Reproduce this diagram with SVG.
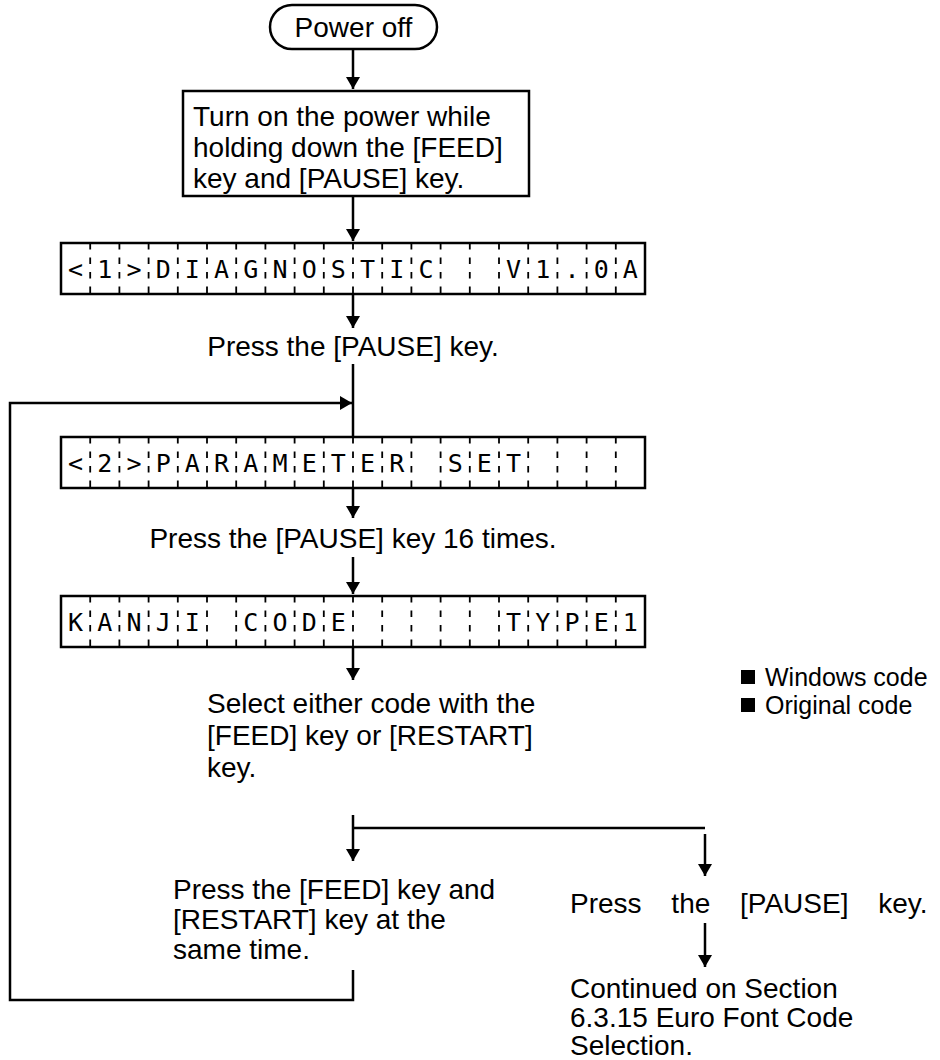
<svg xmlns="http://www.w3.org/2000/svg" xmlns:xlink="http://www.w3.org/1999/xlink" width="940" height="1060" viewBox="0 0 940 1060">
<style>
.t{font-family:"Liberation Sans",Arial,sans-serif;font-size:28px;fill:#000}
.lg{font-family:"Liberation Sans",Arial,sans-serif;font-size:25px;fill:#000}
.lcd{font-family:"DejaVu Sans Mono","Liberation Mono",monospace;font-size:25px;fill:#000;text-anchor:middle}
.box{fill:#fff;stroke:#000;stroke-width:2.5}
.ln{fill:none;stroke:#000;stroke-width:2.5}
.div{fill:none;stroke:#000;stroke-width:1.8;stroke-dasharray:6.5 8}
</style>
<defs>
<marker id="ah" markerUnits="userSpaceOnUse" viewBox="0 0 12 14" refX="12" refY="7" markerWidth="12" markerHeight="14" orient="auto">
<path d="M0,0 L12,7 L0,14 z" fill="#000"/>
</marker>
<path id="lcdDiv" class="div" d="M90.2 0v51M119.4 0v51M148.6 0v51M177.8 0v51M207 0v51M236.2 0v51M265.4 0v51M294.6 0v51M323.8 0v51M353 0v51M382.2 0v51M411.4 0v51M440.6 0v51M469.8 0v51M499 0v51M528.2 0v51M557.4 0v51M586.6 0v51M615.8 0v51"/>
</defs>
<rect width="940" height="1060" fill="#fff"/>

<g id="connectors">
<path class="ln" d="M353 49V89" marker-end="url(#ah)"/>
<path class="ln" d="M353 196V241" marker-end="url(#ah)"/>
<path class="ln" d="M353 294V328" marker-end="url(#ah)"/>
<path class="ln" d="M353 364V437"/>
<path class="ln" d="M353 970V1000H10V403H352" marker-end="url(#ah)"/>
<path class="ln" d="M353 488V518" marker-end="url(#ah)"/>
<path class="ln" d="M353 557V594" marker-end="url(#ah)"/>
<path class="ln" d="M353 647V680" marker-end="url(#ah)"/>
<path class="ln" d="M353 815V861" marker-end="url(#ah)"/>
<path class="ln" d="M353 828H705"/>
<path class="ln" d="M705 834V876" marker-end="url(#ah)"/>
<path class="ln" d="M705 923V967" marker-end="url(#ah)"/>
</g>

<g id="power-off">
<rect class="box" x="270" y="5" width="167" height="44" rx="22"/>
<text class="t" x="353.5" y="37" text-anchor="middle">Power off</text>
</g>

<g id="turn-on">
<rect class="box" x="183" y="91" width="346" height="105"/>
<text class="t" font-size="29" x="193" y="126">Turn on the power while</text>
<text class="t" font-size="29" x="193" y="157">holding down the [FEED]</text>
<text class="t" font-size="29" x="193" y="188">key and [PAUSE] key.</text>
</g>

<g id="lcd-diagnostic">
<rect class="box" x="61" y="243" width="584" height="51"/>
<use xlink:href="#lcdDiv" y="243"/>
<text class="lcd" x="75.6 104.8 134 163.2 192.4 221.6 250.8 280 309.2 338.4 367.6 396.8 426" y="278">&lt;1&gt;DIAGNOSTIC</text>
<text class="lcd" x="513.6 542.8 572 601.2 630.4" y="278">V1.0A</text>
</g>

<g id="press-pause">
<text class="t" x="353" y="356" text-anchor="middle">Press the [PAUSE] key.</text>
</g>

<g id="lcd-parameter">
<rect class="box" x="61" y="437" width="584" height="51"/>
<use xlink:href="#lcdDiv" y="437"/>
<text class="lcd" x="75.6 104.8 134 163.2 192.4 221.6 250.8 280 309.2 338.4 367.6 396.8" y="472">&lt;2&gt;PARAMETER</text>
<text class="lcd" x="455.2 484.4 513.6" y="472">SET</text>
</g>

<g id="press-pause-16">
<text class="t" x="353" y="548" text-anchor="middle">Press the [PAUSE] key 16 times.</text>
</g>

<g id="lcd-kanji">
<rect class="box" x="61" y="596" width="584" height="51"/>
<use xlink:href="#lcdDiv" y="596"/>
<text class="lcd" x="75.6 104.8 134 163.2 192.4" y="631">KANJI</text>
<text class="lcd" x="250.8 280 309.2 338.4" y="631">CODE</text>
<text class="lcd" x="513.6 542.8 572 601.2 630.4" y="631">TYPE1</text>
</g>

<g id="select-code">
<text class="t" x="207" y="713">Select either code with the</text>
<text class="t" x="207" y="745">[FEED] key or [RESTART]</text>
<text class="t" x="207" y="777">key.</text>
</g>

<g id="legend">
<rect x="741" y="670" width="14" height="14" fill="#000"/>
<text class="lg" x="765" y="686">Windows code</text>
<rect x="741" y="698" width="14" height="14" fill="#000"/>
<text class="lg" x="765" y="714">Original code</text>
</g>

<g id="press-feed-restart">
<text class="t" x="173" y="899">Press the [FEED] key and</text>
<text class="t" x="173" y="929">[RESTART] key at the</text>
<text class="t" x="173" y="959">same time.</text>
</g>

<g id="press-pause-right">
<text class="t" x="570" y="913" style="word-spacing:22px">Press the [PAUSE] key.</text>
</g>

<g id="continued">
<text class="t" x="570" y="998">Continued on Section</text>
<text class="t" x="570" y="1027">6.3.15 Euro Font Code</text>
<text class="t" x="570" y="1055">Selection.</text>
</g>
</svg>
